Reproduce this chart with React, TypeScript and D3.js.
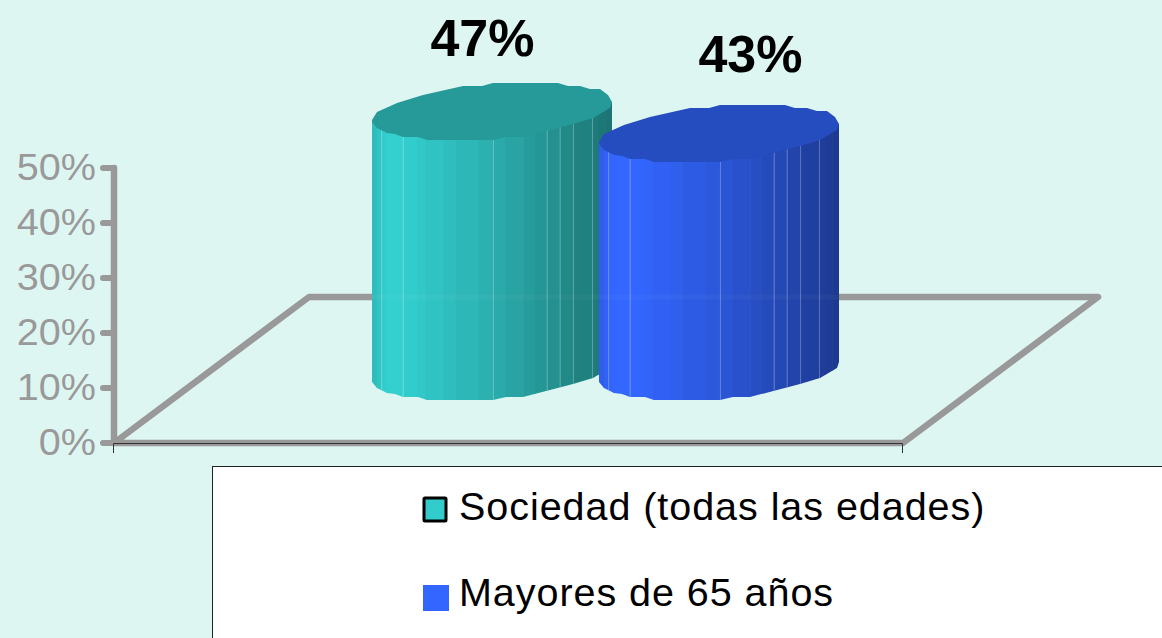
import React from "react";
import * as d3 from "d3";

const seriesNames = ["Sociedad (todas las edades)", "Mayores de 65 años"];
const seriesValues = [47, 43];
const seriesColors = ["#33CCCC", "#3366FF"];
const yTicks = [0, 10, 20, 30, 40, 50];

const W = 1162, H = 638;
const BG = "#DEF6F2", GRAY = "#999999";

// Faceted cylinder geometry: top-face outline, relative to the face's left edge and front-most y
const backArc: [number, number][] = [
  [0, -20], [5, -28], [25, -37], [51, -45], [91, -54], [110, -54], [121, -57],
  [186, -57], [196, -54], [208, -54], [218, -51], [228, -51], [236, -45], [240, -38],
];
const frontArc: [number, number][] = [
  [0, -18], [5, -12], [15, -7], [23, -6], [31, -3], [46, -3], [55, 0], [121, 0],
  [134, -3], [151, -3], [201, -16], [221, -22], [238, -32], [240, -38],
];
const facetEdges = [0, .02, .04, .06, .13, .187, .224, .298, .347, .445, .506, .557, .63, .679, .73, .784, .84, .919, .944, .972, 1];
const litEdges = [.04, .13, .506, .73, .784, .84, .919];

const shadeAt = d3.scaleLinear<number>()
  .domain([0, .06, .16, .5, .73, 1])
  .range([.9, 1.02, 1, .85, .72, .56]);

const yAxis = d3.scaleLinear().domain([0, 50]).range([443, 168]);
const barHeight = d3.scaleLinear().domain([0, 50]).range([0, 276.6]);
const barLeft = d3.scaleLinear().domain([0, 1]).range([372, 599]);
const BAR_W = 240, BAR_FLOOR = 400;
const labelX = [482.5, 750.5];
const labelBase = [55.5, 71.5];

const line = d3.line();
const poly = (p: [number, number][]) => line(p) + "Z";
const shade = (c: string, k: number) => {
  const r = d3.rgb(c);
  return d3.rgb(r.r * k, r.g * k, r.b * k).formatHex();
};

function Cylinder({ i }: { i: number }) {
  const x0 = barLeft(i);
  const h = barHeight(seriesValues[i]);
  const topY = BAR_FLOOR - h;
  const c = seriesColors[i];
  const at = (p: [number, number], dy = 0): [number, number] => [x0 + p[0], topY + p[1] + dy];
  const topFace = [...backArc.map(p => at(p)), ...[...frontArc].reverse().map(p => at(p))];
  const body: [number, number][] = [
    at(frontArc[0]), at(frontArc[frontArc.length - 1]),
    ...[...frontArc].reverse().map(p => at(p, h)),
  ];
  const id = `body${i}`;
  return (
    <g>
      <clipPath id={id}><path d={poly(body)} /></clipPath>
      <g clipPath={`url(#${id})`}>
        {facetEdges.slice(0, -1).map((e, k) => {
          const e2 = facetEdges[k + 1];
          return (
            <rect key={k} x={x0 + e * BAR_W} y={topY - 60}
              width={(e2 - e) * BAR_W + .6} height={h + 70}
              fill={shade(c, shadeAt((e + e2) / 2))} />
          );
        })}
        {litEdges.map((e, k) => (
          <line key={k} x1={x0 + e * BAR_W} x2={x0 + e * BAR_W} y1={topY - 60} y2={BAR_FLOOR + 5}
            stroke="#ffffff" strokeOpacity={.28} strokeWidth={1} />
        ))}
      </g>
      <path d={poly(topFace)} fill={shade(c, .75)} />
    </g>
  );
}

export default function App() {
  const y0 = yAxis(0);
  const floor: [number, number][] = [[114, y0], [903, y0], [1098, 297], [309, 297]];
  return (
    <div style={{ position: "fixed", left: 0, top: 0, lineHeight: 0 }}>
      <svg width={W} height={H} viewBox={`0 0 ${W} ${H}`} fontFamily="'Liberation Sans', Arial, sans-serif" style={{ display: "block" }}>
        <rect width={W} height={H} fill={BG} />

        <path d={poly(floor)} fill="none" stroke={GRAY} strokeWidth={6.5} strokeLinejoin="round" />
        <line x1={114} x2={114} y1={yAxis(50)} y2={y0} stroke={GRAY} strokeWidth={6.5} strokeLinecap="round" />
        {yTicks.map(t => (
          <g key={t}>
            <line x1={103} x2={114} y1={yAxis(t)} y2={yAxis(t)} stroke={GRAY} strokeWidth={6} strokeLinecap="round" />
            <text transform={`translate(96,${yAxis(t) + 12}) scale(1.07,1)`} textAnchor="end" fontSize={37} fill={GRAY}>{t}%</text>
          </g>
        ))}
        <path d={`M113.5,453V443.5H902.5V453`} fill="none" stroke="#333333" strokeWidth={1} />

        {seriesValues.map((_, i) => <Cylinder key={i} i={i} />)}
        <line x1={372} x2={838} y1={297} y2={297} stroke="#ffffff" strokeOpacity={.03} strokeWidth={5} />

        {seriesValues.map((v, i) => (
          <text key={i} x={labelX[i]} y={labelBase[i]} textAnchor="middle" fontSize={52} fontWeight="bold" fill="#000000">{v}%</text>
        ))}

        <rect x={212.5} y={466.5} width={W} height={H} fill="#ffffff" stroke="#222222" strokeWidth={1} />
        <rect x={424} y={498} width={22} height={23} fill={seriesColors[0]} stroke="#000000" strokeWidth={3} rx={1} />
        <rect x={423} y={585} width={26} height={26} fill={seriesColors[1]} />
        <text x={459} y={520} fontSize={39.5} fill="#000000" letterSpacing={.95}>{seriesNames[0]}</text>
        <text x={459} y={606} fontSize={39.5} fill="#000000" letterSpacing={.95}>{seriesNames[1]}</text>
      </svg>
    </div>
  );
}
